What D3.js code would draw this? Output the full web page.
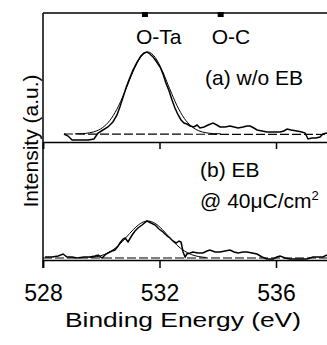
<!DOCTYPE html>
<html>
<head>
<meta charset="utf-8">
<script src="https://cdn.jsdelivr.net/npm/d3@7"></script>
<style>
  body { margin: 0; background: #fff; }
  svg { display: block; }
  text { font-family: "Liberation Sans", Arial, Helvetica, sans-serif; fill: #000; }
</style>
</head>
<body>
<div id="chart"></div>
<script>
// binding energy (eV) vs intensity (a.u.)
const rawA = [
  [528.72, 8], [528.86, 6], [529.00, 2], [529.27, 2], [529.55, 2], [529.75, 3],
  [529.89, 9], [530.06, 12], [530.23, 15], [530.40, 20], [530.54, 27], [530.64, 35],
  [530.75, 45], [530.85, 54], [530.95, 62], [531.09, 72], [531.23, 80], [531.36, 86],
  [531.47, 89], [531.57, 90], [531.67, 88], [531.78, 85], [531.88, 81], [532.02, 75],
  [532.12, 68], [532.22, 59], [532.33, 51], [532.43, 42], [532.53, 34], [532.64, 27],
  [532.74, 22], [532.84, 19], [532.94, 18], [533.05, 16], [533.18, 15], [533.29, 17],
  [533.39, 14], [533.53, 15], [533.67, 17], [533.84, 19], [533.97, 17], [534.08, 15],
  [534.25, 15], [534.42, 16], [534.56, 15], [534.70, 14], [534.87, 15], [535.00, 16],
  [535.11, 16], [535.24, 14], [535.35, 12], [535.52, 11], [535.69, 10], [535.86, 10],
  [536.14, 10], [536.27, 11], [536.38, 13], [536.52, 12], [536.72, 11], [536.89, 10],
  [537.00, 9], [537.10, 3], [537.24, 4], [537.37, 4], [537.51, 5], [537.61, 8], [537.75, 9]
];
const fitA = [
  [529.1, 8.2], [529.35, 8.4], [529.6, 9.2], [529.85, 11.2], [530.1, 15.6], [530.35, 23.7],
  [530.6, 36.4], [530.85, 53.2], [531.1, 70.9], [531.35, 84.7], [531.6, 90], [531.85, 84.7],
  [532.1, 70.9], [532.35, 53.2], [532.6, 36.4], [532.85, 23.7], [533.1, 15.6], [533.35, 11.2],
  [533.6, 9.2], [533.85, 8.4], [534.1, 8.2]
];
const baseA = [[528.72, 8], [538, 7.5]];

const rawB = [
  [528.07, 3], [528.31, 3], [528.52, 4], [528.69, 6], [528.82, 3], [529.00, 3],
  [529.17, 2], [529.41, 3], [529.61, 3], [529.79, 4], [529.89, 5], [530.03, 2],
  [530.13, 5], [530.23, 7], [530.37, 9], [530.47, 10], [530.58, 14], [530.64, 17],
  [530.75, 21], [530.82, 22], [530.92, 18], [531.06, 25], [531.16, 29], [531.26, 32],
  [531.40, 35], [531.57, 39], [531.71, 37], [531.85, 35], [531.98, 31], [532.12, 28],
  [532.26, 24], [532.36, 22], [532.46, 19], [532.57, 17], [532.67, 19], [532.74, 18],
  [532.81, 8], [532.88, 3], [532.94, 6], [533.05, 7], [533.15, 8], [533.32, 7],
  [533.49, 7], [533.63, 9], [533.73, 10], [533.91, 8], [534.08, 8], [534.25, 9],
  [534.42, 10], [534.56, 8], [534.70, 7], [534.87, 8], [535.00, 8], [535.18, 7],
  [535.35, 6], [535.52, 3], [535.69, 1], [535.90, 1], [536.03, 3], [536.14, 4],
  [536.31, 2], [536.48, 1], [536.82, 1], [537.06, 1], [537.27, 3], [537.44, 3],
  [537.61, 3], [537.75, 5]
];
const fitB = [
  [529.6, 2.5], [529.85, 3.4], [530.1, 5.4], [530.35, 9.1], [530.6, 14.8], [530.85, 22.4],
  [531.1, 30.4], [531.35, 36.6], [531.6, 39], [531.85, 36.6], [532.1, 30.4], [532.35, 22.4],
  [532.6, 14.8], [532.85, 9.1], [533.1, 5.4], [533.35, 3.4], [533.6, 2.5]
];
const baseB = [[528, 2], [538, 2]];

const peakNames = ["O-Ta", "O-C"];
const peakPos = [531.5, 534.1];
const xTicks = [528, 532, 536];

const width = 327, height = 345;
const svg = d3.select("#chart").append("svg")
  .attr("width", width).attr("height", height);

const x = d3.scaleLinear().domain([528, 538]).range([43, 334.25]);
const yA = d3.scaleLinear().domain([0, 129]).range([142, 13]);
const yB = d3.scaleLinear().domain([0, 118]).range([260, 142]);

svg.append("clipPath").attr("id", "clip")
  .append("rect").attr("x", 43).attr("y", 0).attr("width", 290).attr("height", 262);

function lineFor(y, curve) {
  return d3.line().x(d => x(d[0])).y(d => y(d[1])).curve(curve);
}

const plot = svg.append("g").attr("clip-path", "url(#clip)");

function drawPanel(y, base, fit, raw) {
  plot.append("path").datum(base).attr("d", lineFor(y, d3.curveLinear))
    .attr("fill", "none").attr("stroke", "#000").attr("stroke-width", 1.2)
    .attr("stroke-dasharray", "9,3");
  plot.append("path").datum(fit).attr("d", lineFor(y, d3.curveMonotoneX))
    .attr("fill", "none").attr("stroke", "#000").attr("stroke-width", 1);
  plot.append("path").datum(raw).attr("d", lineFor(y, d3.curveLinear))
    .attr("fill", "none").attr("stroke", "#000").attr("stroke-width", 1.5);
}
drawPanel(yA, baseA, fitA, rawA);
drawPanel(yB, baseB, fitB, rawB);

// frame: top border, left axis
svg.append("line").attr("x1", 43).attr("x2", 327).attr("y1", 13).attr("y2", 13)
  .attr("stroke", "#000").attr("stroke-width", 1.5);
svg.append("line").attr("x1", 43).attr("x2", 43).attr("y1", 13).attr("y2", 268)
  .attr("stroke", "#000").attr("stroke-width", 1.5);

// middle axis (no labels)
const midAxis = svg.append("g").attr("transform", "translate(0,142)")
  .call(d3.axisBottom(x).tickValues(xTicks).tickSize(7).tickFormat(""));
midAxis.select(".domain").attr("stroke-width", 1.5);
midAxis.selectAll(".tick line").attr("stroke-width", 1.5);

// bottom axis
const botAxis = svg.append("g").attr("transform", "translate(0,260)")
  .call(d3.axisBottom(x).tickValues(xTicks).tickSize(8).tickPadding(17).tickFormat(d3.format("d")));
botAxis.select(".domain").attr("stroke-width", 1.5);
botAxis.selectAll(".tick text")
  .style("font-size", "23px")
  .style("font-family", "'Liberation Sans', Arial, sans-serif");
botAxis.selectAll(".tick line").attr("stroke-width", 1.5);

// peak position markers
svg.selectAll(".marker").data(peakPos).enter().append("rect")
  .attr("x", d => x(d) - 3).attr("y", 12).attr("width", 6).attr("height", 5)
  .attr("fill", "#000");

svg.selectAll(".peakname").data(peakNames).enter().append("text")
  .attr("x", (d, i) => x(peakPos[i]) - 9).attr("y", 44)
  .style("font-size", "21px")
  .text(d => d);

// panel labels
svg.append("text").attr("x", 205).attr("y", 85).style("font-size", "21px").text("(a) w/o EB");
svg.append("text").attr("x", 200).attr("y", 177).style("font-size", "21px").text("(b) EB");
const dose = svg.append("text").attr("x", 200).attr("y", 208).style("font-size", "21px");
dose.append("tspan").text("@ 40\u03BCC/cm");
dose.append("tspan").attr("dy", -8).style("font-size", "13px").text("2");

// axis titles
svg.append("text")
  .attr("transform", "translate(38,141) rotate(-90)")
  .style("text-anchor", "middle")
  .style("font-size", "21px")
  .text("Intensity (a.u.)");

svg.append("text")
  .attr("x", 183).attr("y", 327)
  .style("text-anchor", "middle")
  .style("font-size", "21px")
  .attr("textLength", 236)
  .attr("lengthAdjust", "spacingAndGlyphs")
  .text("Binding Energy (eV)");
</script>
</body>
</html>
